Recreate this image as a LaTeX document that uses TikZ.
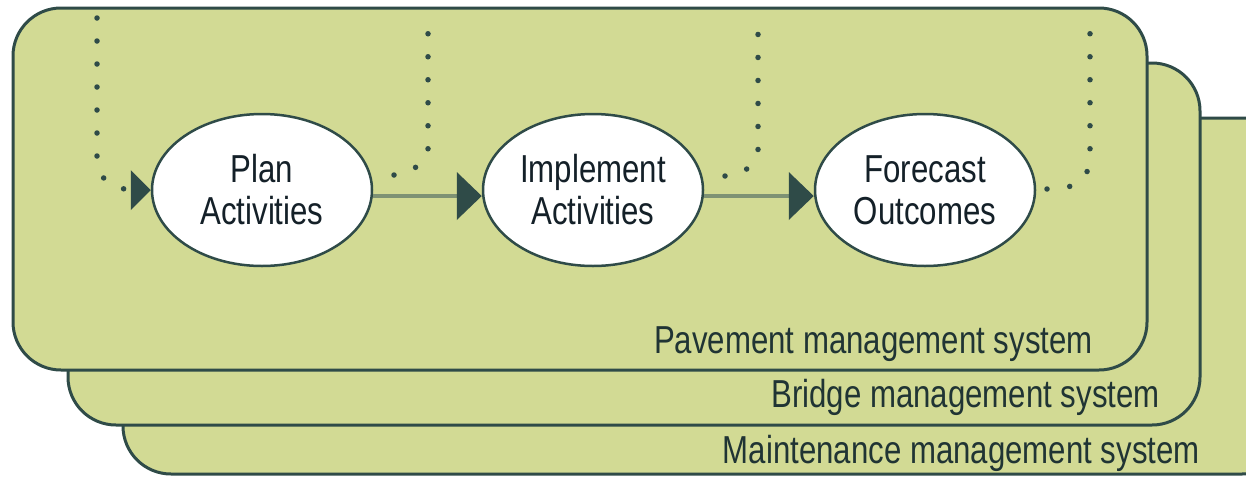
\documentclass[tikz,border=0pt]{standalone}
\usepackage{fontspec}
\setmainfont[FakeStretch=0.80]{Liberation Sans}
\usetikzlibrary{arrows.meta,shapes.geometric}
\definecolor{boxfill}{RGB}{210,218,148}
\definecolor{edge}{RGB}{47,75,72}
\definecolor{flow}{RGB}{126,146,116}
\definecolor{ink}{RGB}{20,32,40}
\definecolor{labelink}{RGB}{32,52,52}
\tikzset{
  sysbox/.style={fill=boxfill, draw=edge, line width=3pt, rounded corners=48pt},
  activity/.style={ellipse, draw=edge, line width=2.5pt, fill=white,
    minimum width=220pt, minimum height=152pt, inner sep=0pt, align=center,
    font=\fontsize{39}{42}\selectfont, text=ink},
  syslabel/.style={anchor=base east, inner sep=0pt,
    font=\fontsize{39}{42}\selectfont, text=labelink},
  feedback/.style={draw=edge, line width=5.5pt, line cap=round,
    dash pattern=on 0pt off 23pt},
  flowline/.style={draw=flow, line width=4.5pt,
    -{Triangle[length=25pt,width=48pt,color=edge,line width=0pt]}},
  feedtip/.style={draw=edge, line width=1pt,
    -{Triangle[length=20pt,width=40pt,line width=0pt]}}
}
\begin{document}
\begin{tikzpicture}[x=1pt,y=-1pt]
\useasboundingbox (0,0) rectangle (1246,477);
\clip (0,0) rectangle (1246,477);
% stacked system panels
\draw[sysbox] (123,118) rectangle (1290,474);
\draw[sysbox] (68,63) rectangle (1200,425);
\draw[sysbox] (13,8) rectangle (1147,370);
% panel labels
\node[syslabel] (mai) at (1200,463) {Maintenance management system};
\node[syslabel] (bri) at (1160,407) {Bridge management system};
\node[syslabel] (pav) at (1093,353) {Pavement management system};
% activities
\node[activity] (plan) at (262,190) {Plan\\Activities};
\node[activity] (impl) at (593,190) {Implement\\Activities};
\node[activity] (fore) at (925,190) {Forecast\\Outcomes};
% main flow
\draw[flowline] ([yshift=-6pt]plan.east) -- ([yshift=-6pt]impl.west);
\draw[flowline] ([yshift=-6pt]impl.east) -- ([yshift=-6pt]fore.west);
% feedback loops (dotted)
\coordinate (in1) at (97,18);
\coordinate (in1a) at (97,157);
\coordinate (in1b) at (104,179);
\coordinate (in1c) at (124,189);
\coordinate (in1d) at (131,190);
\draw[feedback] (in1) -- (in1a) -- (in1b) -- (in1c);
\draw[feedtip] (in1d) -- (plan.west);

\coordinate (o1) at (394,175);
\coordinate (o1a) at (415,168);
\coordinate (o1b) at (428,152);
\coordinate (o1c) at (428,13);
\draw[feedback] (o1) -- (o1a) -- (o1b) -- (o1c);

\coordinate (o2) at (725,176);
\coordinate (o2a) at (746,170);
\coordinate (o2b) at (758,152);
\coordinate (o2c) at (758,13);
\draw[feedback] (o2) -- (o2a) -- (o2b) -- (o2c);

\coordinate (o3) at (1047,189);
\coordinate (o3a) at (1069,187);
\coordinate (o3b) at (1087,172);
\coordinate (o3c) at (1090,152);
\coordinate (o3d) at (1090,13);
\draw[feedback] (o3) -- (o3a) -- (o3b) -- (o3c) -- (o3d);
\end{tikzpicture}
\end{document}
